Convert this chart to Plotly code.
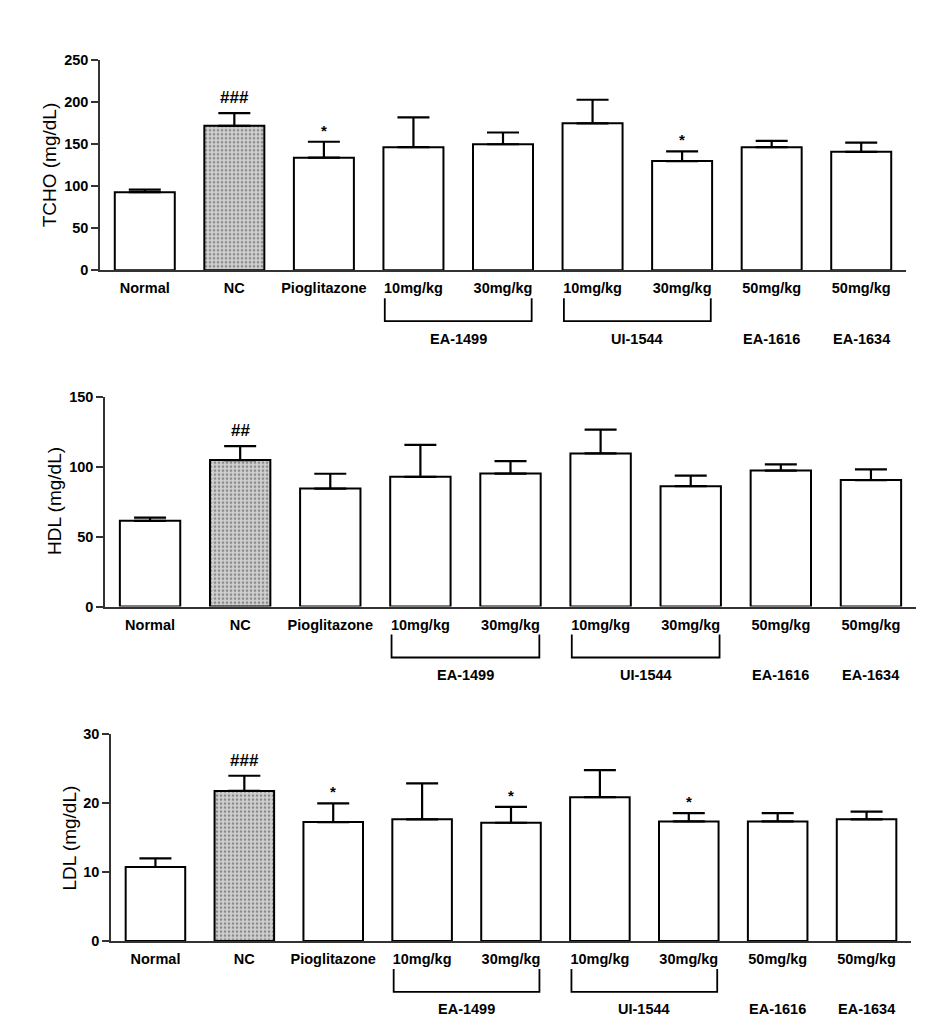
import plotly.graph_objects as go

# ---------------- data ----------------
categories = ["Normal", "NC", "Pioglitazone", "10mg/kg", "30mg/kg",
              "10mg/kg", "30mg/kg", "50mg/kg", "50mg/kg"]
group_names = ["EA-1499", "UI-1544", "EA-1616", "EA-1634"]
group_start = [3, 5, 7, 8]
group_end = [4, 6, 7, 8]

tcho_mean = [93, 172, 134, 146.5, 150, 175, 130, 146.5, 141]
tcho_sem = [3, 15, 19, 35.5, 14, 28, 11.5, 7.5, 11]
tcho_sig = ["", "###", "*", "", "", "", "*", "", ""]

hdl_mean = [61.3, 104.7, 84.3, 92.7, 95, 109.4, 86, 97.2, 90.4]
hdl_sem = [2.3, 10, 10.6, 22.8, 9, 17, 7.5, 4.4, 7.7]
hdl_sig = ["", "##", "", "", "", "", "", "", ""]

ldl_mean = [10.7, 21.7, 17.2, 17.6, 17.1, 20.8, 17.3, 17.3, 17.6]
ldl_sem = [1.25, 2.2, 2.7, 5.2, 2.3, 3.9, 1.2, 1.2, 1.1]
ldl_sig = ["", "###", "*", "", "*", "", "*", "", ""]

titles = ["TCHO (mg/dL)", "HDL (mg/dL)", "LDL (mg/dL)"]
y_max = [250, 150, 30]
y_dtick = [50, 50, 10]
means = [tcho_mean, hdl_mean, ldl_mean]
sems = [tcho_sem, hdl_sem, ldl_sem]
sigs = [tcho_sig, hdl_sig, ldl_sig]

# ---------------- layout geometry (px) ----------------
W, H = 951, 1021
panels = [
    dict(x0=92, x1=898, ytop=45, ybot=258.3, tx=41, ty=151.7),
    dict(x0=97, x1=908, ytop=386.7, ybot=600, tx=46.7, ty=493),
    dict(x0=103, x1=903, ytop=729, ybot=939.7, tx=61.7, ty=835),
]

FONT = "Arial, 'Liberation Sans', Helvetica, sans-serif"
AXC = "#333333"

fig = go.Figure()
layout = dict(
    width=W, height=H, margin=dict(l=0, r=0, t=0, b=0),
    paper_bgcolor="white", plot_bgcolor="white", showlegend=False,
    font=dict(family=FONT, color="black"),
)
annotations = []
shapes = []

x = list(range(len(categories)))
for i, p in enumerate(panels):
    sfx = "" if i == 0 else str(i + 1)
    xa, ya = "x" + sfx, "y" + sfx
    colors = ["#d0d0d0" if c == "NC" else "white" for c in categories]
    shp = ["." if c == "NC" else "" for c in categories]
    fig.add_trace(go.Bar(
        x=x, y=means[i], xaxis=xa, yaxis=ya,
        marker=dict(color=colors, line=dict(color="black", width=2),
                    pattern=dict(shape=shp, fgcolor="#3a3a3a", size=4,
                                 solidity=0.35, fillmode="overlay")),
        error_y=dict(type="data", symmetric=False, array=sems[i],
                     arrayminus=[0] * len(categories),
                     color="black", thickness=2.2, width=16),
        width=0.67,
    ))
    ph = p["ybot"] - p["ytop"]
    layout["xaxis" + sfx] = dict(
        domain=[p["x0"] / W, p["x1"] / W], anchor=ya,
        range=[-0.5, 8.5], showline=True, linecolor=AXC, linewidth=1.5,
        ticks="", tickvals=x, ticktext=categories,
        tickfont=dict(family=FONT, size=14.5, weight="bold", color="black"),
        ticklabelstandoff=4,
        showgrid=False, zeroline=False, fixedrange=True,
    )
    layout["yaxis" + sfx] = dict(
        domain=[1 - p["ybot"] / H, 1 - p["ytop"] / H], anchor=xa,
        range=[0, y_max[i]], dtick=y_dtick[i], showline=True,
        linecolor=AXC, linewidth=1.5, ticks="outside", ticklen=7,
        tickwidth=1.5, tickcolor=AXC,
        tickfont=dict(family=FONT, size=14.5, weight="bold", color="black"),
        showgrid=False, zeroline=False, fixedrange=True,
    )
    # axis title
    annotations.append(dict(
        text=titles[i], xref="paper", yref="paper",
        x=p["tx"] / W, y=1 - p["ty"] / H, xanchor="center", yanchor="middle",
        textangle=-90, showarrow=False,
        font=dict(family=FONT, size=19, color="black"),
    ))
    # significance marks
    for j, s in enumerate(sigs[i]):
        if s:
            big = s.startswith("#")
            annotations.append(dict(
                text=s, xref=xa, yref=ya, x=j, y=means[i][j] + sems[i][j],
                xanchor="center", yanchor="bottom", showarrow=False,
                yshift=4 if big else 1,
                font=dict(family=FONT, size=17 if big else 15,
                          weight="bold", color="black"),
            ))
    # group brackets and labels
    b_top, b_bot, g_lab = 28.4 / ph, 51.7 / ph, 68.4
    for gname, g0, g1 in zip(group_names, group_start, group_end):
        if g1 > g0:
            xl, xr = g0 - 0.32, g1 + 0.32
            path = (f"M {xl},{-b_top} L {xl},{-b_bot} "
                    f"L {xr},{-b_bot} L {xr},{-b_top}")
            shapes.append(dict(type="path", xref=xa, yref=ya + " domain",
                               path=path, line=dict(color="black", width=1.8)))
        annotations.append(dict(
            text=gname, xref=xa, yref=ya + " domain",
            x=(g0 + g1) / 2, y=0, yshift=-g_lab,
            xanchor="center", yanchor="middle", showarrow=False,
            font=dict(family=FONT, size=14.5, weight="bold", color="black"),
        ))

layout["annotations"] = annotations
layout["shapes"] = shapes
fig.update_layout(**layout)
fig.write_html("out.html")
